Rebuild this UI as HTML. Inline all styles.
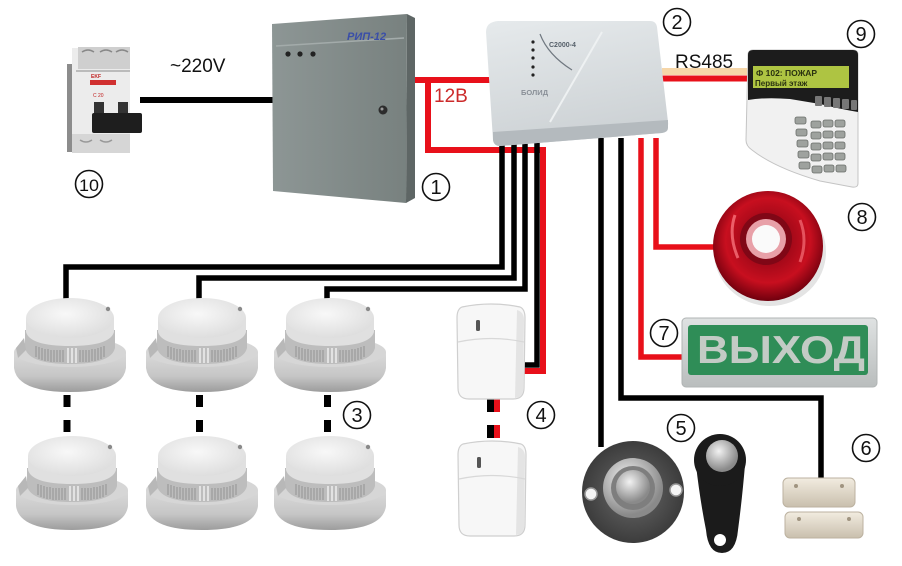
<!DOCTYPE html>
<html><head><meta charset="utf-8"><style>
html,body{margin:0;padding:0;background:#fff;}
svg{display:block;}
text{font-family:"Liberation Sans","DejaVu Sans",sans-serif;}
</style></head><body>
<svg width="902" height="566" viewBox="0 0 902 566" xmlns="http://www.w3.org/2000/svg">
<defs>
 <linearGradient id="gBase" x1="0" y1="0" x2="0" y2="1">
  <stop offset="0" stop-color="#dadada"/><stop offset="0.6" stop-color="#c6c6c6"/><stop offset="1" stop-color="#9c9c9c"/>
 </linearGradient>
 <radialGradient id="gDome" cx="0.45" cy="0.4" r="0.7">
  <stop offset="0" stop-color="#f8f8f8"/><stop offset="1" stop-color="#dadada"/>
 </radialGradient>
 <linearGradient id="gPsu" x1="0" y1="0" x2="1" y2="0">
  <stop offset="0" stop-color="#8d9695"/><stop offset="1" stop-color="#78817f"/>
 </linearGradient>
 <linearGradient id="gCtl" x1="0" y1="0" x2="0.3" y2="1">
  <stop offset="0" stop-color="#e6eaec"/><stop offset="1" stop-color="#cdd2d5"/>
 </linearGradient>
 <radialGradient id="gSiren" cx="0.5" cy="0.45" r="0.55">
  <stop offset="0" stop-color="#e83040"/><stop offset="0.35" stop-color="#a00818"/><stop offset="0.7" stop-color="#c80f1f"/><stop offset="1" stop-color="#70000e"/>
 </radialGradient>
 <radialGradient id="gBtn" cx="0.5" cy="0.5" r="0.5">
  <stop offset="0" stop-color="#6a6a6a"/><stop offset="1" stop-color="#3c3c3c"/>
 </radialGradient>
 <radialGradient id="gMetal" cx="0.4" cy="0.35" r="0.6">
  <stop offset="0" stop-color="#f2f2f2"/><stop offset="1" stop-color="#8a8a8a"/>
 </radialGradient>
 <linearGradient id="gMag" x1="0" y1="0" x2="0" y2="1">
  <stop offset="0" stop-color="#f2ece0"/><stop offset="1" stop-color="#c9bfad"/>
 </linearGradient>
 <linearGradient id="gSign" x1="0" y1="0" x2="0" y2="1">
  <stop offset="0" stop-color="#dfe2e2"/><stop offset="1" stop-color="#b9bdbd"/>
 </linearGradient>
 <g id="smoke">
  <path d="M0,54 L0,70 Q3,94 56,94 Q109,94 112,70 L112,54 Z" fill="url(#gBase)"/>
  <ellipse cx="56" cy="54" rx="56" ry="15" fill="#d6d6d6"/>
  <path d="M11,32 L11,50 Q15,66 56,66 Q97,66 101,50 L101,32 Z" fill="#bdbdbd"/>
  <path d="M22,48v11M25,49v12M28,50v12M31,51v12M34,51v12M37,52v12M40,52v12M43,52v12M46,52v12M49,52v12M66,52v12M69,52v12M72,52v12M75,52v12M78,51v12M81,51v12M84,50v12M87,49v12M90,48v11" stroke="#9a9a9a" stroke-width="1.2"/>
  <path d="M54,50v15M58,50v15M62,50v15" stroke="#e2e2e2" stroke-width="2"/>
  <path d="M12,20 L12,34 Q16,48 56,48 Q96,48 100,34 L100,20 Z" fill="#e0e0e0"/>
  <ellipse cx="56" cy="20" rx="44" ry="20" fill="url(#gDome)"/>
  <circle cx="94" cy="11" r="2.2" fill="#8a8a8a"/>
  <path d="M2,50 L10,40 L12,52 L4,60 Z" fill="#b8b8b8"/>
 </g>
 <g id="pir">
  <path d="M5,5 Q34,-1 63,5 Q68,7 68,16 L67,86 Q67,97 56,97 L12,97 Q1,97 1,86 L0,16 Q0,7 5,5 Z" fill="#f7f7f7" stroke="#cfcfcf" stroke-width="1.2"/>
  <path d="M60,8 Q67,10 67,18 L66,88 Q66,95 58,96 Z" fill="#e4e4e4"/>
  <path d="M1,40 Q34,33 67,40" fill="none" stroke="#d8d8d8" stroke-width="1.2"/>
  <rect x="19" y="18" width="4" height="11" rx="1.5" fill="#555"/>
 </g>
</defs>
<rect width="902" height="566" fill="#fff"/>

<g fill="none" stroke-linejoin="miter" stroke-linecap="butt">
 <line x1="140" y1="100" x2="274" y2="100" stroke="#000" stroke-width="6"/>
 <line x1="412" y1="80" x2="492" y2="80" stroke="#e8101a" stroke-width="6"/>
 <polyline points="428,77 428,150 543,150 543,371 524,371" stroke="#e8101a" stroke-width="6"/>
 <rect x="662" y="68" width="86" height="7" fill="#f6d6a8" stroke="none"/>
 <line x1="660" y1="78.5" x2="750" y2="78.5" stroke="#e8101a" stroke-width="6"/>
 <polyline points="502,140 502,267 66,267 66,300" stroke="#000" stroke-width="5.5"/>
 <polyline points="514,140 514,278 199,278 199,300" stroke="#000" stroke-width="5.5"/>
 <polyline points="525,140 525,289 327,289 327,300" stroke="#000" stroke-width="5.5"/>
 <polyline points="537,140 537,365 524,365" stroke="#000" stroke-width="5.5"/>
 <polyline points="601,138 601,447" stroke="#000" stroke-width="5.5"/>
 <polyline points="621,138 621,398 821,398 821,480" stroke="#000" stroke-width="5.5"/>
 <polyline points="641,138 641,357 684,357" stroke="#e8101a" stroke-width="5.5"/>
 <polyline points="656,138 656,247 714,247" stroke="#e8101a" stroke-width="5.5"/>
</g>
<g fill="#000">
 <rect x="63.5" y="395" width="7" height="12"/><rect x="63.5" y="420" width="7" height="12"/>
 <rect x="196" y="395" width="7" height="12"/><rect x="196" y="420" width="7" height="12"/>
 <rect x="324" y="395" width="7" height="12"/><rect x="324" y="420" width="7" height="12"/>
 <rect x="487" y="398" width="7" height="14"/><rect x="487" y="425" width="7" height="13"/>
</g>
<g fill="#e8101a">
 <rect x="494" y="398" width="6" height="14"/><rect x="494" y="425" width="6" height="13"/>
</g>

<g>
 <rect x="67" y="64" width="8" height="88" fill="#8c8c8c"/>
 <rect x="72" y="48" width="58" height="105" fill="#ececec"/>
 <rect x="78" y="47" width="52" height="22" fill="#cfcfcf"/>
 <path d="M82,52 q6,-4 12,0 M100,52 q6,-4 12,0 M116,52 q6,-4 12,0" stroke="#888" stroke-width="1.5" fill="none"/>
 <rect x="76" y="70" width="54" height="2" fill="#bbb"/>
 <text x="91" y="78" font-size="5" fill="#c02020" font-weight="bold">EKF</text>
 <rect x="90" y="80" width="26" height="5" fill="#d03030"/>
 <text x="93" y="97" font-size="5" fill="#c02020">C 20</text>
 <rect x="94" y="102" width="10" height="13" fill="#333"/>
 <rect x="118" y="102" width="10" height="13" fill="#333"/>
 <rect x="92" y="113" width="50" height="20" rx="2" fill="#1e1e1e"/>
 <rect x="72" y="134" width="58" height="19" fill="#d6d6d6"/>
 <path d="M80,140 q6,4 12,0 M100,140 q6,4 12,0" stroke="#999" stroke-width="1.5" fill="none"/>
</g>

<g>
 <path d="M407,14 L415,18 L415,198 L406,203 Z" fill="#5e6665"/>
 <path d="M272,24 L407,14 L406,203 L273,191 Z" fill="url(#gPsu)"/>
 <path d="M276,46 L404,38" stroke="#a3abaa" stroke-width="1.5"/>
 <text x="347" y="40" font-size="11" font-weight="bold" font-style="italic" fill="#3a4ea8">РИП-12</text>
 <circle cx="288" cy="54" r="2.6" fill="#222"/>
 <circle cx="300" cy="54" r="2.6" fill="#222"/>
 <circle cx="313" cy="54" r="2.6" fill="#222"/>
 <circle cx="383" cy="110" r="4.5" fill="#2c2c2c"/>
 <circle cx="382" cy="109" r="1.5" fill="#999"/>
</g>

<g>
 <path d="M498,21 L650,21 Q656,21 657,27 L668,122 Q669,130 662,133 L500,146 Q494,146 493,140 L486,32 Q486,22 498,21 Z" fill="url(#gCtl)"/>
 <path d="M493,132 L668,120 L668,128 Q668,132 662,133 L500,146 Q494,146 493,140 Z" fill="#b4babe"/>
 <path d="M602,32 L550,122" stroke="#eef1f2" stroke-width="2"/>
 <path d="M540,34 Q548,55 572,70" stroke="#707880" stroke-width="1.2" fill="none"/>
 <text x="549" y="47" font-size="7" fill="#56606a" font-weight="bold">С2000-4</text>
 <g fill="#222"><circle cx="533" cy="42" r="1.6"/><circle cx="533" cy="50" r="1.6"/><circle cx="533" cy="58" r="1.6"/><circle cx="533" cy="67" r="1.6"/><circle cx="533" cy="75" r="1.6"/></g>
 <text x="521" y="95" font-size="7.5" fill="#8a9098" font-weight="bold">БОЛИД</text>
</g>

<g>
 <path d="M748,55 Q748,50 753,50 L853,50 Q858,50 858,55 L858,183 Q858,188 852,187 L820,181 Q775,168 752,150 Q746,146 746,140 Z" fill="#f1f1f1" stroke="#c4c4c4" stroke-width="1"/>
 <path d="M748,55 Q748,50 753,50 L853,50 Q858,50 858,55 L858,112 Q840,109 820,104 L790,99 Q765,97 748,100 Z" fill="#1c1c1c"/>
 <rect x="753" y="66" width="96" height="22" fill="#aec442"/>
 <text x="756" y="76" font-size="8.5" font-family="Liberation Mono, monospace" fill="#2a3210" font-weight="bold">Ф   102: ПОЖАР</text>
 <text x="755" y="86" font-size="8" font-family="Liberation Mono, monospace" fill="#2a3210" font-weight="bold">Первый этаж</text>
 <g fill="#777"><rect x="815" y="96" width="7" height="10" rx="1"/><rect x="824" y="97" width="7" height="10" rx="1"/><rect x="833" y="98" width="7" height="10" rx="1"/><rect x="842" y="99" width="7" height="10" rx="1"/><rect x="851" y="100" width="6" height="10" rx="1"/></g>
 <g fill="#9ea29e" stroke="#6a6e6a" stroke-width="0.8">
  <rect x="795" y="117" width="11" height="7" rx="2"/><rect x="811" y="121" width="10" height="7" rx="2"/><rect x="823" y="120" width="10" height="7" rx="2"/><rect x="835" y="120" width="10" height="7" rx="2"/>
  <rect x="796" y="129" width="11" height="7" rx="2"/><rect x="811" y="132" width="10" height="7" rx="2"/><rect x="823" y="131" width="10" height="7" rx="2"/><rect x="835" y="131" width="10" height="7" rx="2"/>
  <rect x="797" y="140" width="11" height="7" rx="2"/><rect x="811" y="143" width="10" height="7" rx="2"/><rect x="823" y="142" width="10" height="7" rx="2"/><rect x="835" y="142" width="10" height="7" rx="2"/>
  <rect x="798" y="151" width="11" height="7" rx="2"/><rect x="811" y="154" width="10" height="7" rx="2"/><rect x="823" y="153" width="10" height="7" rx="2"/><rect x="835" y="153" width="10" height="7" rx="2"/>
  <rect x="799" y="162" width="11" height="7" rx="2"/><rect x="812" y="166" width="10" height="7" rx="2"/><rect x="824" y="165" width="10" height="7" rx="2"/><rect x="836" y="165" width="10" height="7" rx="2"/>
 </g>
</g>

<g>
 <ellipse cx="770" cy="252" rx="56" ry="54" fill="#e4e4e4"/>
 <circle cx="768" cy="246" r="55" fill="url(#gSiren)"/>
 <circle cx="766" cy="239" r="26" fill="#800716"/>
 <circle cx="766" cy="239" r="20" fill="#e8a0a8"/>
 <circle cx="766" cy="239" r="14" fill="#fafafa"/>
 <path d="M735,215 Q728,235 738,258" stroke="#ff8088" stroke-width="3" fill="none" opacity="0.7"/>
 <path d="M800,220 Q808,240 800,262" stroke="#ff8088" stroke-width="3" fill="none" opacity="0.6"/>
</g>

<g>
 <rect x="682" y="318" width="195" height="69" rx="4" fill="url(#gSign)" stroke="#b0b4b4" stroke-width="1"/>
 <rect x="688" y="325" width="180" height="50" rx="3" fill="#2f8d57"/>
 <text x="697" y="363" font-size="39" font-weight="bold" fill="#c3cbc5" textLength="168" lengthAdjust="spacingAndGlyphs">ВЫХОД</text>
</g>

<use href="#smoke" x="14" y="298"/>
<use href="#smoke" x="146" y="298"/>
<use href="#smoke" x="274" y="298"/>
<use href="#smoke" x="16" y="436"/>
<use href="#smoke" x="146" y="436"/>
<use href="#smoke" x="274" y="436"/>

<use href="#pir" x="457" y="302"/>
<use href="#pir" x="458" y="439"/>

<g>
 <circle cx="633" cy="492" r="51" fill="url(#gBtn)"/>
 <circle cx="591" cy="494" r="6" fill="#f4f4f4" stroke="#999" stroke-width="1.5"/>
 <circle cx="676" cy="490" r="6" fill="#f4f4f4" stroke="#999" stroke-width="1.5"/>
 <circle cx="633" cy="488" r="30" fill="url(#gMetal)"/>
 <circle cx="633" cy="488" r="22" fill="#7e7e7e"/>
 <circle cx="633" cy="487" r="17" fill="url(#gMetal)"/>
</g>
<g>
 <path d="M696,465 Q700,500 706,530 Q708,553 722,553 Q736,553 738,530 Q742,500 745,465 Z" fill="#1b1b1b"/>
 <circle cx="720" cy="460" r="26" fill="#1b1b1b"/>
 <circle cx="722" cy="456" r="16" fill="url(#gMetal)"/>
 <circle cx="720" cy="540" r="6" fill="#fff"/>
</g>
<g>
 <rect x="783" y="478" width="72" height="29" rx="5" fill="url(#gMag)" stroke="#bcb2a0" stroke-width="1"/>
 <rect x="785" y="512" width="78" height="26" rx="5" fill="url(#gMag)" stroke="#bcb2a0" stroke-width="1"/>
 <circle cx="796" cy="486" r="2" fill="#a09480"/><circle cx="842" cy="486" r="2" fill="#a09480"/>
 <circle cx="799" cy="519" r="2" fill="#a09480"/><circle cx="849" cy="519" r="2" fill="#a09480"/>
</g>

<text x="170" y="72" font-size="19" fill="#111">~220V</text>
<text x="675" y="68" font-size="19" fill="#111">RS485</text>
<text x="434" y="102" font-size="19" fill="#cc2a2a">12В</text>

<g fill="none" stroke="#111" stroke-width="1.6">
 <circle cx="89" cy="184" r="13.5"/>
 <circle cx="436" cy="187" r="13.5"/>
 <circle cx="677" cy="22" r="13.5"/>
 <circle cx="861" cy="34" r="13.5"/>
 <circle cx="862" cy="217" r="13.5"/>
 <circle cx="664" cy="333" r="13.5"/>
 <circle cx="357" cy="415" r="13.5"/>
 <circle cx="541" cy="415" r="13.5"/>
 <circle cx="681" cy="428" r="13.5"/>
 <circle cx="866" cy="448" r="13.5"/>
</g>
<g font-size="20" fill="#111" text-anchor="middle">
 <text x="89" y="191" font-size="17" textLength="20" lengthAdjust="spacingAndGlyphs">10</text>
 <text x="436" y="194">1</text>
 <text x="677" y="29">2</text>
 <text x="861" y="41">9</text>
 <text x="862" y="224">8</text>
 <text x="664" y="340">7</text>
 <text x="357" y="422">3</text>
 <text x="541" y="422">4</text>
 <text x="681" y="435">5</text>
 <text x="866" y="455">6</text>
</g>
</svg>
</body></html>
